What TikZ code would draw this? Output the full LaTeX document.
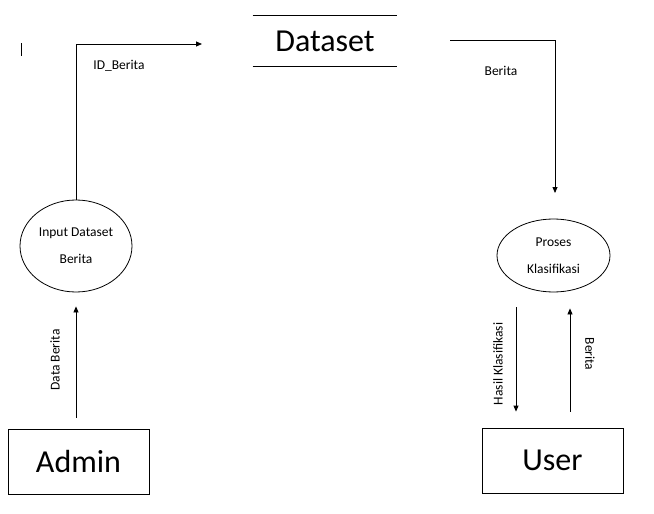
\documentclass[tikz,border=0pt]{standalone}
\usepackage{fontspec}
\setmainfont{Carlito}
\usetikzlibrary{arrows.meta,shapes.geometric}
\begin{document}
\begin{tikzpicture}[x=1pt,y=-1pt,
  line width=0.8pt,
  flow/.style={-{Triangle[length=6pt,width=5pt]}},
  small/.style={font=\fontsize{13.5}{16}\selectfont},
  big/.style={font=\fontsize{32}{38}\selectfont},
  proc/.style={draw,ellipse,inner sep=0pt,align=center,font=\fontsize{13.5}{27}\selectfont},
  ent/.style={draw,rectangle,inner sep=0pt,big},
]
\useasboundingbox (0,0) rectangle (654,514);
% stray mark
\coordinate (m1) at (21.5,43);
\coordinate (m2) at (21.5,56);
\draw (m1) -- (m2);
% data store
\node[big,minimum width=144pt,minimum height=50pt,inner sep=0pt] (ds) at (325,41) {Dataset};
\draw (ds.north west) -- (ds.north east);
\draw (ds.south west) -- (ds.south east);
% processes
\node[proc,minimum width=112pt,minimum height=92pt] (in) at (76,246) {Input Dataset\\Berita};
\node[proc,minimum width=113pt,minimum height=73pt] (pk) at (553.5,255.5) {Proses\\Klasifikasi};
% entities
\node[ent,minimum width=141pt,minimum height=65pt] (admin) at (78.5,461.5) {Admin};
\node[ent,minimum width=141pt,minimum height=65pt] (user) at (552.5,460.5) {User};
% connectors
\coordinate (idend) at (202,44);
\draw[flow] (in.north) |- (idend);
\node[small] (lid) at (119,66) {ID\_Berita};
\coordinate (bstart) at (450,40);
\coordinate (bend) at (555,193);
\draw[flow] (bstart) -| (bend);
\node[small] (lb1) at (501,71) {Berita};
\draw[flow,shorten <=11pt,shorten >=14pt] ([xshift=-2.5pt]admin.north) -- (in.south);
\node[small,rotate=90] (ldb) at (55,360) {Data Berita};
\draw[flow,shorten <=15pt,shorten >=16pt] ([xshift=-37.5pt]pk.south) -- ([xshift=-36.5pt]user.north);
\node[small,rotate=90] (lhk) at (498,364) {Hasil Klasifikasi};
\draw[flow,shorten <=16pt,shorten >=16pt] ([xshift=17.5pt]user.north) -- ([xshift=16.5pt]pk.south);
\node[small,rotate=-90] (lb2) at (590,354) {Berita};
\end{tikzpicture}
\end{document}
